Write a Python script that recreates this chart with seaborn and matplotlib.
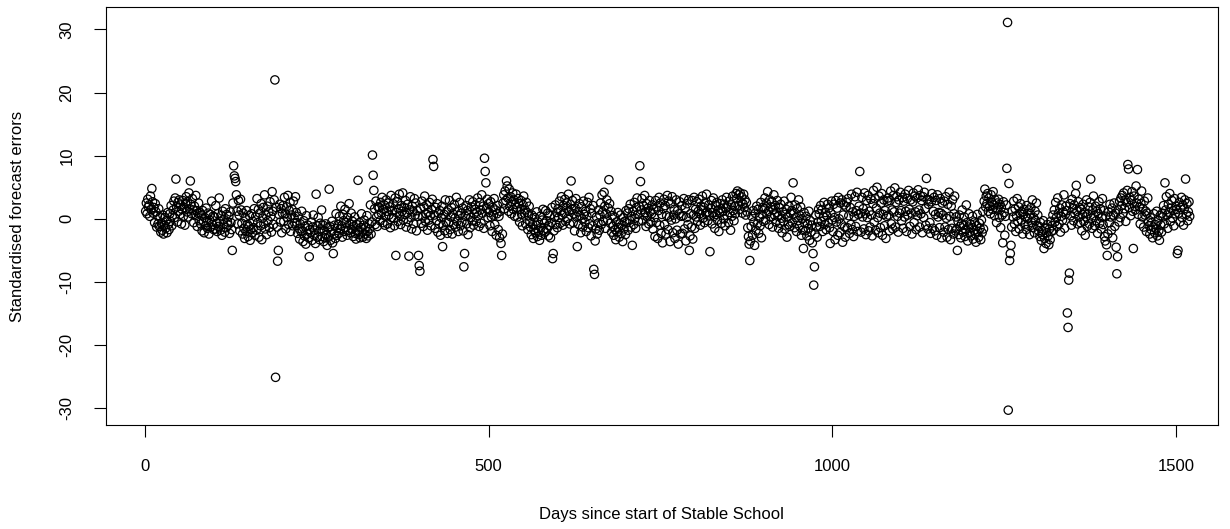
import numpy as np
import pandas as pd
import matplotlib
matplotlib.use("Agg")
import matplotlib.pyplot as plt
import seaborn as sns

# Standardised forecast errors, one value per day
errors = [
    1.2, 2.5, 0.8, 3.1, 1.9, 2.2, 0.4, 3.6, 1.5, 4.8, 2.7, 0.9, 1.8, -0.6, 2.4, 1.1, -1.3, 0.5, -0.8, 1.6,
    -1.2, 0.3, -2.1, -0.7, -1.8, 0.6, -2.4, -1.0, 0.2, -1.5, -0.3, -2.2, 1.0, -0.9, -1.7, 0.8, -0.4, 2.1, -1.1, 0.5,
    1.4, 2.8, 0.2, 3.3, 6.3, 1.9, -0.5, 2.6, 1.2, 3.0, 0.7, 2.2, -0.8, 1.5, 2.9, 0.4, 1.8, -1.0, 2.4, 3.5,
    1.1, 2.7, 0.3, 4.1, 1.6, 6.0, 2.3, 0.8, 3.2, 1.4, -0.6, 2.0, 0.5, 3.7, 1.3, -1.2, 0.9, 2.5, -0.3, 1.0,
    -0.8, 0.6, -1.9, 1.3, -0.4, -2.2, 0.2, -1.1, 1.7, -0.6, -1.5, 0.9, -2.4, -0.2, 0.7, -1.3, 2.8, -0.9, 0.4, -1.7,
    0.3, -1.6, 2.1, -0.7, -2.0, 0.8, -1.2, 3.3, -0.4, -1.8, 0.5, -2.6, 1.2, -0.9, -0.1, -2.1, 1.6, -1.4, 0.7, -0.5,
    -1.0, 0.4, -2.3, 1.1, -0.6, -1.7, -5.0, 2.5, 8.4, 6.8, 6.4, 5.9, 3.8, 1.2, -0.8, 2.9, 0.6, -1.9, 3.1, 1.4,
    -0.7, -2.4, 0.9, -1.5, -3.1, 0.2, -2.0, 1.3, -0.9, -2.8, -1.2, 0.5, -3.4, -1.7, 0.8, -2.2, -0.4, -1.4, 1.6, -2.6,
    0.3, -1.8, 3.2, -0.6, 1.5, -2.9, 0.9, -1.1, 2.4, -3.3, 0.1, 1.8, -0.8, 3.8, -1.6, 0.6, -2.5, 2.0, -0.3, 1.1,
    -1.4, 2.7, 0.4, -2.1, 4.3, 1.2, -0.9, 3.0, 22.0, -25.1, 1.8, -1.3, -6.7, -5.0, 0.7, 2.3, -0.5, 1.6, -2.2, 0.9,
    2.1, -0.4, 3.4, 0.8, -1.6, 1.9, 0.2, 3.7, -0.9, 1.3, 2.6, -2.0, 0.6, 1.5, -1.1, 2.8, 0.1, -0.7, 3.5, 1.0,
    -0.6, -2.3, 0.4, -1.5, -3.2, -0.8, -2.0, 1.2, -1.9, -3.6, -0.3, -2.7, -1.2, -4.0, 0.5, -2.4, -1.0, -3.0, -6.0, -1.7,
    -2.2, -0.5, -3.4, -1.3, 0.6, -2.6, -1.8, -3.9, 3.9, -1.1, -2.9, 0.2, -2.0, -3.3, -0.7, -1.6, 1.4, -2.8, -1.0, -3.6,
    -1.9, -3.0, -0.8, -2.5, -4.2, -1.4, -2.9, 4.7, -1.2, -3.4, -2.1, -0.4, -3.8, -5.5, -2.4, -1.0, -3.1, 0.8, -2.6, -1.5,
    -0.9, -2.3, 0.4, -1.6, 2.0, -1.1, -2.9, 0.7, -0.3, -2.0, 1.5, -1.4, -0.6, -2.6, 0.2, -1.8, 2.4, -0.8, -2.2, 0.9,
    -1.7, -0.4, -2.8, -1.2, 0.3, -2.3, -3.2, -0.9, -1.9, 6.1, -2.5, -0.6, -3.0, -1.4, 0.8, -2.1, -2.9, -1.0, -0.2, -2.4,
    -1.3, -3.1, 0.5, -2.0, -2.7, -0.8, -1.6, 2.2, -2.4, -0.5, 10.1, 6.9, 4.5, 1.6, -0.9, 2.8, 0.3, -1.2, 1.9, 0.7,
    1.8, -0.3, 2.6, 0.9, 3.4, -0.6, 1.5, 2.2, -1.0, 0.4, 3.0, 1.2, -0.8, 2.5, 0.6, 1.9, -1.4, 3.7, 0.2, 1.3,
    2.4, 0.1, -1.1, 3.3, -5.8, 1.0, 2.7, -0.4, 1.6, 3.9, 0.5, -0.9, 2.1, 1.2, 4.1, -0.2, 1.8, 0.7, 2.9, -1.3,
    0.9, 2.3, -0.5, -5.9, 1.4, 3.5, 0.2, -1.6, 2.0, 1.1, -0.8, 3.2, 0.6, 2.5, -1.9, 1.3, 0.4, -5.8, -7.4, -8.3,
    1.7, -0.7, 2.8, 0.3, -1.2, 1.9, 3.6, -0.4, 0.8, 2.2, -1.8, 1.0, -0.2, 2.6, 0.5, -1.1, 1.5, 3.1, 9.4, 8.3,
    0.6, -1.5, 1.8, -0.3, 2.4, -2.1, 0.9, -0.8, 1.3, -2.6, 0.2, 2.0, -4.4, -1.0, 0.7, -1.9, 3.0, -0.5, 1.1, -2.3,
    1.4, -0.6, 2.9, -1.7, 0.3, 1.8, -2.4, 0.8, -0.9, 2.3, 0.1, -1.3, 3.4, -0.4, 1.2, -2.0, 0.5, 2.6, -1.1, 0.9,
    -0.5, 1.7, -1.9, -7.6, -5.5, 0.4, 2.1, -0.8, 1.3, -2.5, 0.6, 3.0, -1.4, 0.2, 1.9, -0.3, 2.7, -1.0, 0.8, 1.5,
    2.2, -0.4, 1.1, 3.3, 0.5, -1.2, 2.6, 1.4, -0.7, 3.8, 0.9, 2.0, -1.5, 9.6, 7.5, 5.7, 1.6, 3.1, 0.2, 2.4,
    1.0, -1.1, 2.7, 0.3, -2.0, 1.8, 0.6, 3.2, -0.9, 1.4, -2.6, 0.8, 2.1, -1.7, 0.4, -3.0, 1.2, -3.9, -5.8, -2.4,
    2.5, 3.8, 1.6, 4.4, 2.9, 6.0, 5.2, 3.3, 1.2, 4.7, 2.0, 3.5, 0.8, 2.7, 4.1, 1.5, 3.0, 0.4, 2.3, 3.9,
    1.8, 0.3, 3.2, 2.4, -0.5, 1.5, 2.9, 0.7, -1.1, 2.2, 3.6, 0.9, 1.4, -0.8, 2.6, 1.0, -1.7, 0.5, 2.0, -0.4,
    -1.3, -2.5, 0.6, -0.9, -3.1, -1.7, 0.2, -2.2, -1.0, 1.1, -2.8, -0.5, -1.9, -3.4, 0.4, -1.4, -2.6, -0.2, 1.5, -1.8,
    -0.7, -2.1, 1.3, -0.3, -1.6, 0.9, -2.7, -1.1, 0.5, -3.0, -0.6, 1.8, -6.3, -5.5, -1.9, 0.3, 2.2, -0.9, 1.0, -1.4,
    1.6, 0.2, 2.8, -0.7, 1.3, 3.5, 0.6, -1.0, 2.1, 0.9, 3.1, -0.4, 1.7, 2.5, 0.1, 3.9, 1.2, -0.8, 2.3, 6.0,
    1.5, 2.9, -0.6, 0.8, -1.9, 1.7, 3.2, 0.3, -4.4, 1.1, -0.9, 2.4, 0.5, -2.2, 1.9, 0.0, -1.3, 2.8, 0.7, -0.5,
    1.2, -2.0, 0.4, 2.6, -1.4, 3.4, -0.8, 1.6, -2.7, 0.9, -1.1, 2.1, -8.0, -8.8, -3.5, -1.6, 0.3, -2.4, -0.7, 1.4,
    -1.8, 0.6, 2.5, -0.9, 3.8, 1.1, -0.4, 4.2, 2.0, -1.5, 0.8, 3.0, -0.2, 1.7, 6.2, 2.4, -0.7, 1.2, -2.1, 0.5,
    -1.2, -2.6, 0.3, -1.7, -3.3, -0.5, -2.1, 1.0, -1.4, -2.9, -0.8, 0.6, -2.3, -1.0, -3.6, 0.2, -1.6, -0.4, -2.5, 1.3,
    -0.6, 0.9, -1.8, 1.6, -0.2, 2.3, -1.3, 0.4, -4.2, 1.2, -0.9, 2.6, 0.1, -1.5, 1.8, 3.3, 0.7, -0.4, 2.0, 8.4,
    5.9, 1.4, 3.2, -0.3, 2.1, 0.6, 3.7, 1.0, -1.2, 2.4, 0.3, 1.7, -0.8, 2.9, 1.1, -0.5, 0.8, 2.2, -1.6, 1.5,
    0.2, -2.8, 2.9, -0.6, 1.9, -3.1, 1.3, 3.4, -1.0, 2.5, -2.3, 0.7, -3.8, 1.6, 3.1, -0.9, 2.1, -2.4, 0.5, 3.7,
    -1.7, 2.8, 0.3, -3.6, 2.4, -0.2, 3.5, -2.2, 0.6, 1.5, -3.1, 0.0, 3.0, -1.8, 1.3, -4.0, 0.8, 2.7, -2.4, 0.4,
    2.1, -2.3, 0.5, 3.2, -1.6, 1.7, -3.5, 0.2, 2.4, -0.9, 3.0, -5.0, -2.7, 0.8, -1.3, 2.9, -3.2, 0.6, 3.4, -1.5,
    1.5, 0.3, 2.7, -0.4, 1.2, 3.1, 0.8, -1.0, 2.0, 1.4, 3.6, 0.1, 1.8, -0.6, 2.5, 0.9, 3.9, 1.1, -0.3, 2.2,
    0.6, -5.2, 1.7, 2.9, -0.8, 1.0, 3.3, 0.4, -1.5, 2.1, 0.7, 2.6, -0.2, 1.3, -2.0, 0.9, 2.4, 1.6, -0.7, 3.0,
    1.2, 0.0, 2.3, -1.1, 1.7, 3.4, 0.5, 1.9, -0.6, 2.8, 1.0, -1.8, 2.2, 0.4, 3.6, 1.3, -0.3, 2.0, 0.8, 4.0,
    3.2, 4.4, 2.1, 3.8, 1.5, 4.1, 2.7, 3.5, 0.9, 2.4, 3.9, 1.8, 3.0, 0.6, 2.6, 1.1, -1.4, -2.8, -4.0, -6.6,
    -3.5, -1.2, 0.4, -2.6, 1.3, -0.5, -4.2, 0.9, -1.8, 2.0, -0.8, 1.5, -2.3, 0.2, -1.1, 2.6, -3.0, 0.7, 1.8, -0.4,
    1.6, 3.3, -0.2, 2.5, 0.8, 4.3, 1.2, -0.9, 3.0, 1.9, 0.3, 2.7, -1.3, 1.4, 3.8, 0.6, 2.1, -0.5, 1.0, 2.9,
    0.4, -1.5, 1.8, -0.7, 2.3, 0.1, -2.2, 1.1, -0.4, 2.8, -1.6, 0.7, 1.5, -2.9, 0.3, -0.9, 2.0, -1.2, 0.9, 3.4,
    1.3, -0.6, 5.7, 0.8, -1.4, 2.2, 0.2, -2.0, 1.6, -0.3, 3.0, -1.1, 0.5, 1.9, -2.6, 0.0, -1.8, -4.7, 1.0, -0.7,
    -1.9, 0.4, -2.7, -0.8, -1.5, 1.2, -3.4, -0.3, -2.1, -1.0, -3.8, -5.5, -10.5, -7.6, -2.4, 0.6, -1.3, -2.9, -0.5, 1.5,
    0.8, -1.2, 2.1, -0.4, 1.4, -2.0, 0.3, 2.6, -0.9, 1.0, -1.7, 0.5, 2.3, -0.6, 1.7, -1.4, -3.9, 0.9, 2.8, -0.2,
    -2.0, 2.3, 0.2, -3.3, 2.9, -0.5, 1.7, -2.6, 3.4, 0.0, -2.2, 2.5, -0.8, 3.0, -3.7, 0.6, 2.2, -1.3, -2.9, 1.9,
    2.6, -1.4, 3.2, 0.5, -2.3, 1.8, -0.9, 3.9, -1.7, 1.1, -2.8, 0.4, 3.5, -1.2, 1.3, 4.2, -2.0, 0.7, 2.0, 7.5,
    0.9, -2.1, 3.4, 0.3, 1.6, -1.6, 4.1, 0.8, -2.5, 2.9, 0.2, 3.7, -1.9, 1.2, -1.3, 3.1, 0.6, -2.7, 2.4, 4.5,
    -0.5, 3.2, -1.8, 1.7, 5.0, 0.2, -2.2, 3.6, 0.9, -1.4, 2.5, 4.0, -2.6, 0.7, 3.0, -1.1, 1.3, -3.1, 0.4, 2.8,
    3.3, 0.6, -1.9, 2.9, 4.4, -0.8, 1.4, -1.6, 3.7, 1.1, 4.9, -1.3, 2.6, 3.5, 0.4, -2.1, 3.0, 0.9, 4.2, 1.3,
    -0.3, 3.4, -1.5, 2.8, 0.3, 3.9, 1.2, -2.0, 3.2, 0.6, 4.5, 1.5, -1.2, 3.0, 0.9, -2.4, 2.7, 4.1, -0.6, 3.6,
    1.1, -1.7, 3.3, 0.5, 4.6, 1.4, -1.3, 3.7, 0.8, 2.9, -2.2, 3.5, 0.2, 4.2, 1.6, -1.0, 6.4, 3.1, -1.6, 2.3,
    3.0, -0.6, -2.3, 2.7, 4.0, -1.5, 1.2, 3.4, -1.9, 0.7, 2.9, -2.6, 3.8, 0.3, 1.0, -1.4, 3.2, 0.9, -3.0, 2.5,
    0.6, -2.1, 2.8, -1.3, 3.5, 0.1, -2.9, 2.3, -1.7, 4.2, 0.4, -3.3, 2.0, -1.5, 3.0, -2.4, 0.8, 3.6, -1.9, 0.3,
    -1.6, -5.0, -0.4, -2.5, 0.6, -1.2, -3.0, -0.8, 1.4, -2.1, -1.0, 0.3, -2.8, -1.7, 2.2, -0.6, -3.5, -1.3, 0.8, -2.2,
    -0.9, -2.7, -1.4, 0.4, -3.2, -1.8, -0.5, -2.4, -3.7, -1.1, 0.7, -2.0, -2.9, -0.7, -1.5, -3.3, -0.2, -2.2, 1.2, -1.6,
    2.8, 4.7, 1.9, 3.6, 2.4, 4.0, 1.2, 3.3, 2.0, 0.8, 3.8, 2.6, 1.5, 4.3, 2.2, 0.5, 3.0, 1.7, -0.6, 2.5,
    1.4, 3.1, 0.2, 2.3, -1.4, 1.8, 0.6, -3.8, 2.7, 1.0, -2.6, 0.4, 2.2, 8.0, 31.1, -30.3, 5.6, -6.6, -5.5, -4.2,
    -1.3, 1.2, 0.3, 2.8, -0.8, 1.6, -2.0, 0.5, 3.2, -0.4, 1.9, -1.6, 0.9, 2.4, -0.2, 1.1, -2.4, 0.7, 1.5, -0.9,
    0.4, -1.7, 2.1, 0.0, -1.0, 1.4, -2.5, 0.8, 1.8, -0.6, 3.0, -1.4, 0.2, -2.2, 1.2, -0.3, 2.5, -1.1, 0.6, -1.9,
    -1.2, -2.8, -0.6, -3.4, -1.9, -2.5, -0.3, -4.7, -3.1, -1.5, -3.9, -2.2, -0.9, -2.7, -4.1, -1.6, -3.3, -0.4, -2.0, -1.1,
    0.6, -1.8, 1.4, -0.5, 2.6, 0.2, -1.2, 3.3, 0.9, -0.8, 1.7, -2.1, 0.4, 2.2, -0.2, 1.1, 3.8, -1.5, 0.7, 2.0,
    1.3, -14.9, -17.2, -9.7, -8.6, 2.4, 0.5, -1.0, 3.1, 1.6, -0.3, 2.2, 0.8, 4.0, 5.3, 1.2, -0.8, 2.7, 0.3, 1.8,
    -0.6, 1.5, -1.9, 0.7, 2.3, -0.4, 1.0, -2.6, 0.3, 3.0, -1.2, 0.8, 1.9, -0.8, 2.6, 6.3, 0.1, -1.5, 1.4, 3.6,
    0.5, -1.1, 2.0, -0.3, 1.2, -2.3, 0.8, 2.7, -0.7, 1.6, -1.6, 0.2, 3.2, -0.9, 1.3, -2.8, -3.5, 0.4, -4.1, -5.8,
    -2.4, 1.1, -0.6, 2.3, 0.3, -1.8, 1.7, -3.0, 0.6, 2.5, -1.2, 0.9, -4.5, -8.7, -6.0, 1.4, -0.5, 2.8, 0.2, 3.3,
    2.1, 3.7, 0.9, 4.1, 1.6, 3.0, -0.4, 2.6, 4.5, 8.6, 7.9, 1.8, 3.4, 0.5, 2.9, 4.3, 1.2, -4.7, 3.6, 2.0,
    1.4, 5.2, 2.5, 7.8, 0.7, 3.1, 1.9, -0.8, 2.4, 4.4, 0.3, 1.6, -1.3, 2.8, 0.6, 1.2, -2.0, 0.9, 3.3, -0.5,
    -1.1, -2.4, 0.2, -1.7, -0.6, -3.0, -1.3, 0.8, -2.2, -0.9, -1.6, 1.2, -2.7, -0.3, -1.9, -3.4, 0.5, -1.0, -2.1, 0.9,
    0.3, 2.1, -0.8, 5.7, 1.4, 3.5, 0.6, -1.5, 2.3, 1.0, 4.0, -0.4, 1.7, 2.9, 0.1, 1.3, -1.1, 3.2, 0.8, 2.0,
    1.5, -5.5, -5.0, 0.9, 2.6, -0.5, 1.8, 3.4, 0.2, 2.2, -1.0, 1.6, 3.0, 6.3, 0.7, 2.4, -0.3, 1.1, 2.7, 0.4,
]
days = np.arange(1, len(errors) + 1)

x_ticks = [0, 500, 1000, 1500]
y_ticks = [-30, -20, -10, 0, 10, 20, 30]
x_label = "Days since start of Stable School"
y_label = "Standardised forecast errors"

sns.set_style("ticks", {"axes.edgecolor": "black", "xtick.color": "black",
                        "ytick.color": "black", "text.color": "black",
                        "axes.labelcolor": "black"})
plt.rcParams['font.family'] = ['Liberation Sans', 'DejaVu Sans']

W, H = 1230, 529
L, R, T, B = 105.8, 1218, 7.3, 425
fig = plt.figure(figsize=(W / 100, H / 100), dpi=100)
ax = fig.add_axes([L / W, 1 - B / H, (R - L) / W, (B - T) / H])

df = pd.DataFrame({"day": days, "err": errors})
sns.scatterplot(data=df, x="day", y="err", ax=ax, marker="o", s=36,
                color="black", facecolor="none", edgecolor="black",
                linewidth=0.9, legend=False)
coll = ax.collections[0]
coll.set_facecolor("none")
coll.set_edgecolor("black")

ax.set_xlim(-57, (R - 145) / 0.6873)
ax.set_ylim(-32.65, 33.5)
ax.set_xticks(x_ticks)
ax.set_yticks(y_ticks)
ax.set_xticklabels([str(v) for v in x_ticks])
ax.set_yticklabels([str(v) for v in y_ticks])
ax.tick_params(direction="out", length=8.5, width=0.8, labelsize=12, color="black")
ax.tick_params(axis="x", pad=16)
ax.tick_params(axis="y", pad=14, labelrotation=90)
for lab in ax.get_yticklabels():
    lab.set_va("center")
for sp in ax.spines.values():
    sp.set_visible(True)
    sp.set_color("black")
    sp.set_linewidth(0.8)

ax.set_xlabel(x_label, fontsize=12)
ax.set_ylabel(y_label, fontsize=12)
ax.xaxis.set_label_coords(0.5, (B - 514) / (B - T))
ax.xaxis.label.set_va("center")
ax.yaxis.set_label_coords((18 - L) / (R - L), 0.5)
ax.yaxis.label.set_va("center")

fig.savefig("out.png", dpi=100)
